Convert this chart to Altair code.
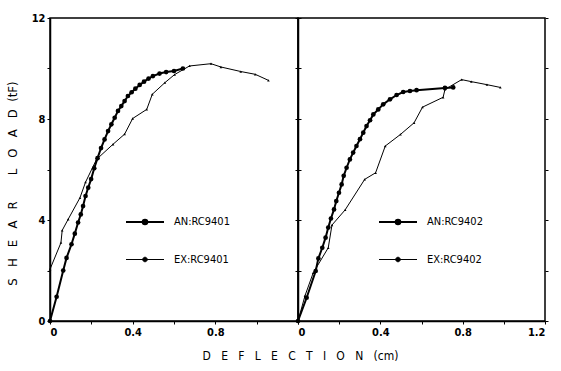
import altair as alt
import pandas as pd

# ---- data (deflection in cm, shear load in tF) ----
an1_x = [0, 0.032, 0.064, 0.08, 0.104, 0.12, 0.136, 0.149, 0.16, 0.172, 0.185, 0.199, 0.214, 0.23,
         0.247, 0.264, 0.281, 0.297, 0.313, 0.329, 0.345, 0.361, 0.377, 0.395, 0.413, 0.434, 0.455,
         0.477, 0.498, 0.53, 0.562, 0.6, 0.643]
an1_y = [0, 0.96, 2.0, 2.5, 3.04, 3.46, 3.9, 4.22, 4.55, 4.95, 5.28, 5.62, 6.05, 6.45,
         6.85, 7.19, 7.52, 7.79, 8.05, 8.32, 8.51, 8.71, 8.91, 9.06, 9.2, 9.35, 9.48,
         9.6, 9.7, 9.8, 9.86, 9.9, 10.0]
ex1_x = [0, 0.053, 0.059, 0.088, 0.145, 0.172, 0.225, 0.305, 0.361, 0.4, 0.468, 0.495, 0.556,
         0.603, 0.675, 0.779, 0.827, 0.923, 0.993, 1.057]
ex1_y = [2.05, 3.1, 3.59, 4.03, 4.88, 5.5, 6.4, 7.0, 7.4, 8.02, 8.38, 8.98, 9.44,
         9.76, 10.1, 10.19, 10.06, 9.88, 9.77, 9.53]
an2_x = [0, 0.042, 0.086, 0.099, 0.118, 0.134, 0.147, 0.16, 0.175, 0.186, 0.199, 0.212, 0.222,
         0.236, 0.252, 0.268, 0.284, 0.301, 0.317, 0.333, 0.35, 0.366, 0.39, 0.414, 0.447, 0.479,
         0.511, 0.544, 0.576, 0.714, 0.754]
an2_y = [0, 0.92, 1.98, 2.48, 2.9, 3.3, 3.7, 4.06, 4.42, 4.75, 5.08, 5.41, 5.75,
         6.07, 6.4, 6.67, 6.93, 7.2, 7.46, 7.72, 7.95, 8.18, 8.38, 8.58, 8.78, 8.95,
         9.07, 9.11, 9.14, 9.23, 9.25]
ex2_x = [0, 0.034, 0.074, 0.147, 0.165, 0.229, 0.324, 0.377, 0.424, 0.498, 0.564, 0.605, 0.705,
         0.714, 0.795, 0.842, 0.918, 0.983]
ex2_y = [0, 1.0, 1.91, 2.9, 3.8, 4.4, 5.61, 5.87, 6.93, 7.39, 7.85, 8.47, 8.86,
         9.17, 9.56, 9.48, 9.36, 9.25]

panel_labels = {
    "p1": ["AN:RC9401", "EX:RC9401"],
    "p2": ["AN:RC9402", "EX:RC9402"],
}
x_ticks = [0, 0.2, 0.4, 0.6, 0.8, 1.0, 1.2]
y_ticks = [0, 2, 4, 6, 8, 10, 12]

rows = []
def add(panel, series, kind, xs, ys):
    for i, (a, b) in enumerate(zip(xs, ys)):
        rows.append({"panel": panel, "series": series, "kind": kind, "i": i, "x": a, "y": b})

add("p1", panel_labels["p1"][0], "AN", an1_x, an1_y)
add("p1", panel_labels["p1"][1], "EX", ex1_x, ex1_y)
add("p2", panel_labels["p2"][0], "AN", an2_x, an2_y)
add("p2", panel_labels["p2"][1], "EX", ex2_x, ex2_y)
df = pd.DataFrame(rows)

FONT = "DejaVu Sans Condensed, Liberation Sans Narrow, DejaVu Sans, sans-serif"
NB = "\u00a0"
def spaced(word, gap=2):
    return (NB * gap).join(list(word))

ytitle = spaced("SHEAR", 3) + NB * 7 + spaced("LOAD", 3) + NB * 2 + "(tF)"
xtitle = spaced("DEFLECTION", 3) + NB * 3 + "(cm)"

LEG_PATH = "M-1,0H1M-0.12,0A0.12,0.12 0 1,0 0.12,0A0.12,0.12 0 1,0 -0.12,0"


def panel(pid, first):
    dom = panel_labels[pid]
    base = alt.Chart(df).transform_filter(alt.datum.panel == pid)
    if first:
        lab = "round(datum.value*10) % 4 == 0 && datum.value < 1.1 ? (datum.value == 0 ? '0' : format(datum.value, '.1f')) : ''"
    else:
        lab = "round(datum.value*10) % 4 == 0 ? (datum.value == 0 ? '0' : format(datum.value, '.1f')) : ''"
    xaxis_kw = dict(values=x_ticks, labelExpr=lab, labelPadding=2)
    if first:
        xaxis_kw.update(title=xtitle, titleX=250, titleY=34, titleAlign="center",
                        titleBaseline="middle", titleFontSize=12, titleFont=FONT,
                        titleFontWeight="normal")
    else:
        xaxis_kw.update(title=None)
    yaxis_kw = dict(values=y_ticks, labelExpr="datum.value % 4 == 0 ? datum.label : ''")
    if first:
        yaxis_kw.update(title=ytitle, titleX=-38, titleY=165, titleAlign="center",
                        titleBaseline="middle", titleFontSize=13, titleFont=FONT,
                        titleFontWeight="normal")
    else:
        yaxis_kw.update(title=None, labels=False)
    xenc = alt.X("x:Q", scale=alt.Scale(domain=[0, 1.2], nice=False, zero=False),
                 axis=alt.Axis(**xaxis_kw))
    yenc = alt.Y("y:Q", scale=alt.Scale(domain=[0, 12], nice=False),
                 axis=alt.Axis(**yaxis_kw))
    yenc_right = alt.Y("y:Q", scale=alt.Scale(domain=[0, 12], nice=False),
                       axis=alt.Axis(orient="right", values=y_ticks, labels=False, title=None,
                                     domain=False))
    lines = base.mark_line(color="black").encode(
        x=xenc, y=yenc, detail="series:N", order="i:Q",
        strokeWidth=alt.StrokeWidth(
            "series:N", scale=alt.Scale(domain=dom, range=[2, 1]),
            legend=alt.Legend(title=None, orient="none",
                              legendX=75 if first else 80, legendY=184,
                              symbolType=LEG_PATH, symbolSize=1444,
                              symbolFillColor="black", symbolStrokeColor="black",
                              labelFont=FONT, labelFontSize=11, labelOffset=9,
                              rowPadding=11, padding=0, labelColor="black")))
    pts = base.mark_point(filled=True, color="black", opacity=1).encode(
        x=xenc, y=yenc_right,
        shape=alt.Shape("kind:N", scale=alt.Scale(domain=["AN", "EX"], range=["circle", "triangle-up"]),
                        legend=None),
        size=alt.Size("kind:N", scale=alt.Scale(domain=["AN", "EX"], range=[22, 7]), legend=None))
    return alt.layer(lines, pts).resolve_axis(y="independent").properties(
        width=248 if first else 247, height=303)


chart = alt.hconcat(panel("p1", True), panel("p2", False), spacing=0, bounds="flush").resolve_scale(
    strokeWidth="independent"
).resolve_legend(strokeWidth="independent").properties(
    padding={"left": 5, "top": 11, "right": 5, "bottom": 5},
    background="white",
).configure_view(stroke="black", strokeWidth=1.5).configure_axis(
    labelFont=FONT, labelFontSize=11, labelFontWeight="bold", labelColor="black",
    domainColor="black", domainWidth=1.5, tickColor="black", tickSize=3, tickWidth=1,
    grid=False, titleColor="black",
)

chart.save("out.html", embed_options={"renderer": "svg", "actions": False})
